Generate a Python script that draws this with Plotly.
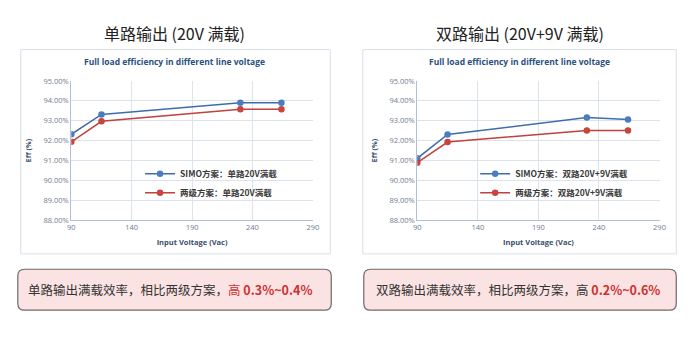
import plotly.graph_objects as go

W, H = 700, 338

# Input line voltage (Vac)
voltage = [90, 115, 230, 264]

# Single output, 20V full load efficiency (%)
single_simo = [92.32, 93.32, 93.91, 93.90]
single_two_stage = [91.94, 92.97, 93.58, 93.58]

# Dual output, 20V+9V full load efficiency (%)
dual_simo = [91.11, 92.31, 93.16, 93.06]
dual_two_stage = [90.89, 91.93, 92.51, 92.51]

page_titles = ["单路输出 (20V 满载)", "双路输出 (20V+9V 满载)"]
chart_title = "Full load efficiency in different line voltage"
legend_names = [
    ["SIMO方案：单路20V满载", "两级方案：单路20V满载"],
    ["SIMO方案：双路20V+9V满载", "两级方案：双路20V+9V满载"],
]
summary_plain = ["单路输出满载效率，相比两级方案，", "双路输出满载效率，相比两级方案，"]
summary_gain = ["0.3%~0.4%", "0.2%~0.6%"]

BLUE = "#3E6DAE"
BLUE_M = "#4A7DC0"
RED = "#C0413E"
RED_M = "#C8443F"
CJK = "Noto Sans CJK SC"


def px_x(p):
    return p / W


def px_y(p):
    return 1 - p / H


def rounded_rect(x0, y0, x1, y1, r):
    # pixel box -> paper-space SVG path with rounded corners
    X = lambda v: px_x(v)
    Y = lambda v: px_y(v)
    rx, ry = r / W, r / H
    return (
        f"M {X(x0)+rx},{Y(y0)} L {X(x1)-rx},{Y(y0)} "
        f"Q {X(x1)},{Y(y0)} {X(x1)},{Y(y0)-ry} "
        f"L {X(x1)},{Y(y1)+ry} Q {X(x1)},{Y(y1)} {X(x1)-rx},{Y(y1)} "
        f"L {X(x0)+rx},{Y(y1)} Q {X(x0)},{Y(y1)} {X(x0)},{Y(y1)+ry} "
        f"L {X(x0)},{Y(y0)-ry} Q {X(x0)},{Y(y0)} {X(x0)+rx},{Y(y0)} Z"
    )


fig = go.Figure()

panels = [
    dict(xa="x", ya="y", leg="legend", simo=single_simo, two=single_two_stage,
         plot=(68.3, 313.3), frame=(17, 331), center=173, box=(14, 332),
         legend_x=138, text_dx=-5),
    dict(xa="x2", ya="y2", leg="legend2", simo=dual_simo, two=dual_two_stage,
         plot=(419.3, 665), frame=(364, 682), center=523, box=(365, 682),
         legend_x=478, text_dx=-2),
]

shapes = []
annotations = []
plot_top, plot_bottom = 78.3, 221.7

for i, p in enumerate(panels):
    fig.add_trace(go.Scatter(
        x=voltage, y=p["simo"], mode="lines+markers", name=legend_names[i][0],
        line=dict(color=BLUE, width=1.5), marker=dict(color=BLUE_M, size=6.5),
        xaxis=p["xa"], yaxis=p["ya"], legend=p["leg"], legendgroup=f"a{i}",
    ))
    fig.add_trace(go.Scatter(
        x=voltage, y=p["two"], mode="lines+markers", name=legend_names[i][1],
        line=dict(color=RED, width=1.5), marker=dict(color=RED_M, size=6.5),
        xaxis=p["xa"], yaxis=p["ya"], legend=p["leg"], legendgroup=f"b{i}",
    ))

    # chart frame
    shapes.append(dict(type="rect", xref="paper", yref="paper",
                       x0=px_x(p["frame"][0]), x1=px_x(p["frame"][1]),
                       y0=px_y(256.5), y1=px_y(46),
                       line=dict(color="#D9DEE6", width=1), fillcolor="rgba(0,0,0,0)",
                       layer="below"))
    # summary box
    shapes.append(dict(type="path", xref="paper", yref="paper",
                       path=rounded_rect(p["box"][0], 272.3, p["box"][1], 314.5, 7),
                       line=dict(color="#6E6A6A", width=1.2), fillcolor="#FBE3E3"))

    annotations.append(dict(text=page_titles[i], xref="paper", yref="paper",
                            x=px_x(p["center"]), y=px_y(29), showarrow=False,
                            xanchor="center", yanchor="middle",
                            font=dict(family=CJK, size=16, color="#222222")))
    annotations.append(dict(text=f"<b>{chart_title}</b>", xref="paper", yref="paper",
                            x=px_x(p["center"]), y=px_y(58.5), showarrow=False,
                            xanchor="center", yanchor="middle",
                            font=dict(family="Open Sans", size=8.5, color="#2B4F80")))
    gain_word = "<span style='color:#D03030'>高</span>" if i == 0 else "高"
    annotations.append(dict(
        text=f"{summary_plain[i]}{gain_word} <span style='color:#D03030'><b>{summary_gain[i]}</b></span>",
        xref="paper", yref="paper",
        x=px_x((p["box"][0] + p["box"][1]) / 2 + p["text_dx"]), y=px_y(293),
        showarrow=False, xanchor="center", yanchor="middle",
        font=dict(family=CJK, size=12.5, color="#333333")))

axis_common = dict(
    showgrid=True, gridcolor="#DDE3EC", gridwidth=1,
    showline=True, linecolor="#AFC0D8", linewidth=1,
    ticks="", zeroline=False,
    tickfont=dict(family="Open Sans", size=7.5, color="#6F7C90"),
)

for i, p in enumerate(panels):
    sfx = "" if i == 0 else "2"
    xd = [px_x(p["plot"][0]), px_x(p["plot"][1])]
    yd = [px_y(plot_bottom), px_y(plot_top)]
    fig.update_layout(**{
        f"xaxis{sfx}": dict(axis_common, domain=xd, range=[90, 290], tick0=90, dtick=50,
                            anchor=f"y{sfx}", mirror=False,
                            title=dict(text="<b>Input Voltage (Vac)</b>", standoff=8,
                                       font=dict(family="Open Sans", size=7.5, color="#3A4F6E"))),
        f"yaxis{sfx}": dict(axis_common, domain=yd, range=[88, 95], dtick=1,
                            tickformat=".2f", ticksuffix="%", anchor=f"x{sfx}",
                            title=dict(text="<b>Eff (%)</b>", standoff=10,
                                       font=dict(family="Open Sans", size=7.5, color="#3A4F6E"))),
    })

legend_common = dict(
    xanchor="left", yanchor="top", bgcolor="rgba(0,0,0,0)",
    font=dict(family=CJK, size=8.5, color="#3A3A3A", weight="bold"),
    itemwidth=30, tracegroupgap=0, itemclick=False,
)
fig.update_layout(
    legend=dict(legend_common, x=px_x(panels[0]["legend_x"]), y=px_y(159)),
    legend2=dict(legend_common, x=px_x(panels[1]["legend_x"]), y=px_y(159)),
    shapes=shapes, annotations=annotations,
    width=W, height=H, margin=dict(l=0, r=0, t=0, b=0),
    paper_bgcolor="white", plot_bgcolor="white", showlegend=True,
)

fig.write_html("out.html")
